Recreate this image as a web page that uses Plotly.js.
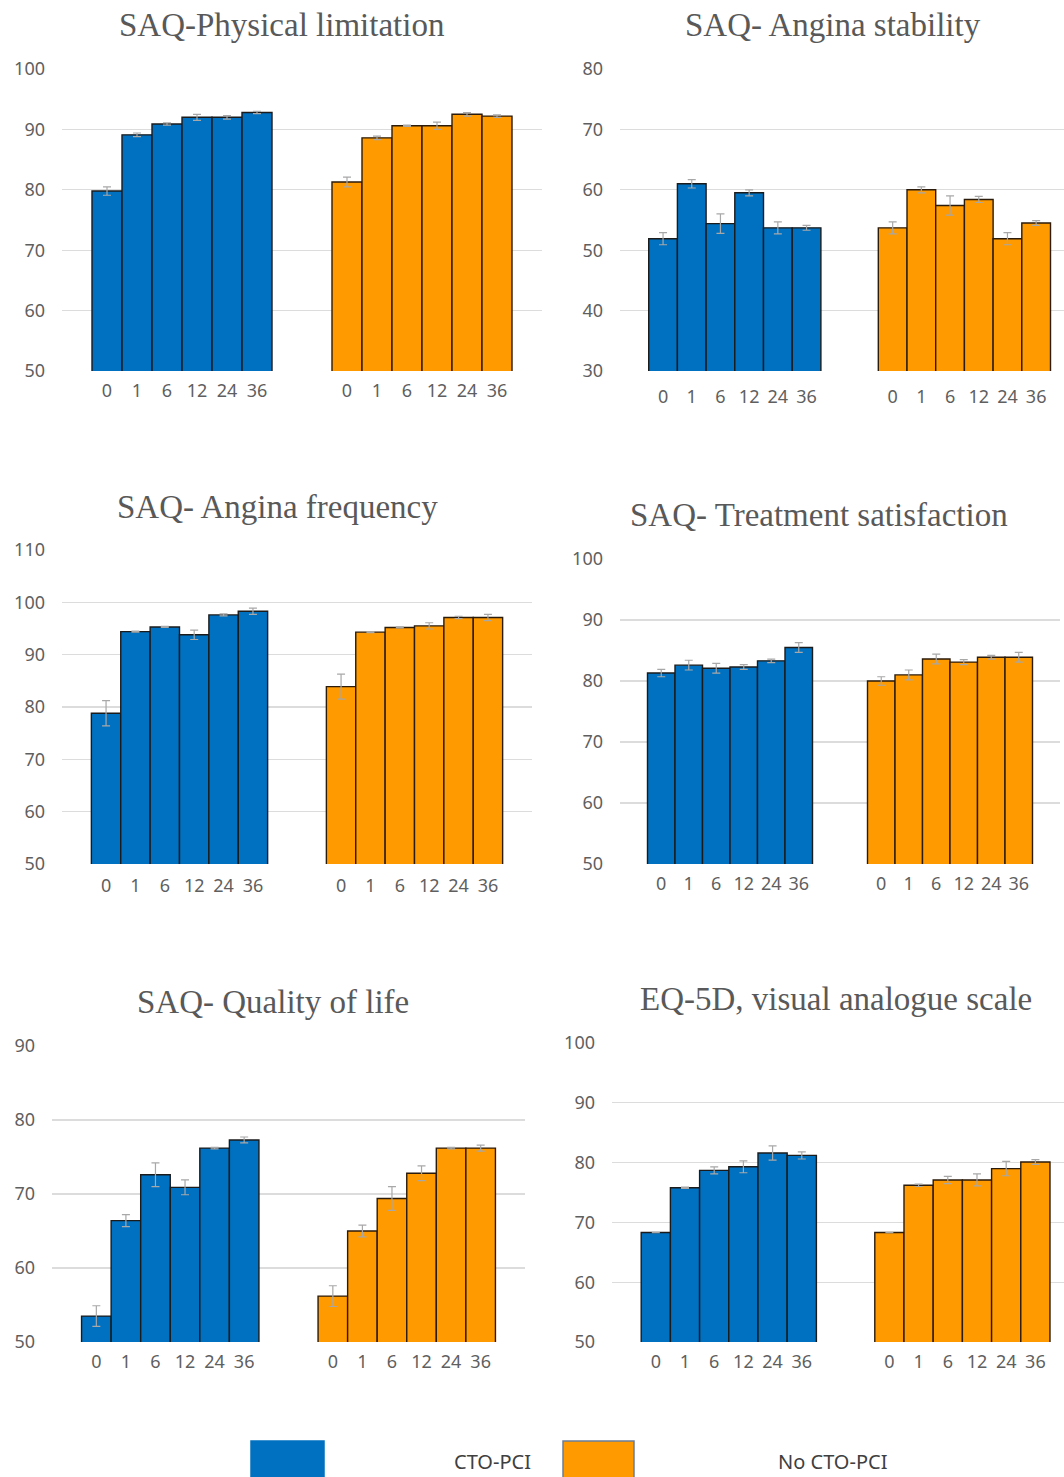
<!DOCTYPE html>
<html>
<head>
<meta charset="utf-8">
<script src="https://cdn.plot.ly/plotly-3.0.1.min.js"></script>
<style>html,body{margin:0;padding:0;background:#fff;}#chart{width:1064px;height:1477px;}</style>
</head>
<body>
<div id="chart"></div>
<script>
// ---- Data ----
const months = ['0', '1', '6', '12', '24', '36'];
const seriesNames = ['CTO-PCI', 'No CTO-PCI'];
const panelTitles = [
  'SAQ-Physical limitation',
  'SAQ- Angina stability',
  'SAQ- Angina frequency',
  'SAQ- Treatment satisfaction',
  'SAQ- Quality of life',
  'EQ-5D, visual analogue scale'
];

const physCto = [79.8, 89.1, 90.9, 92.0, 92.0, 92.8];
const physCtoErr = [0.7, 0.3, 0.2, 0.5, 0.3, 0.2];
const physNo = [81.3, 88.6, 90.6, 90.6, 92.5, 92.2];
const physNoErr = [0.8, 0.3, 0.1, 0.6, 0.3, 0.2];

const stabCto = [51.9, 61.0, 54.4, 59.5, 53.7, 53.7];
const stabCtoErr = [1.0, 0.7, 1.6, 0.5, 1.0, 0.4];
const stabNo = [53.7, 60.0, 57.4, 58.4, 51.9, 54.5];
const stabNoErr = [1.0, 0.5, 1.6, 0.5, 1.0, 0.4];

const freqCto = [78.8, 94.4, 95.3, 93.8, 97.6, 98.3];
const freqCtoErr = [2.4, 0.1, 0.1, 0.9, 0.2, 0.6];
const freqNo = [83.9, 94.3, 95.2, 95.5, 97.1, 97.1];
const freqNoErr = [2.4, 0.1, 0.1, 0.6, 0.2, 0.6];

const satCto = [81.3, 82.6, 82.1, 82.3, 83.3, 85.5];
const satCtoErr = [0.6, 0.8, 0.8, 0.4, 0.3, 0.8];
const satNo = [80.0, 81.0, 83.6, 83.1, 83.9, 83.9];
const satNoErr = [0.7, 0.8, 0.8, 0.4, 0.3, 0.8];

const qolCto = [53.5, 66.4, 72.6, 70.9, 76.2, 77.3];
const qolCtoErr = [1.4, 0.8, 1.6, 1.0, 0.1, 0.4];
const qolNo = [56.2, 65.0, 69.4, 72.8, 76.2, 76.2];
const qolNoErr = [1.4, 0.8, 1.6, 1.0, 0.1, 0.4];

const vasCto = [68.3, 75.8, 78.7, 79.3, 81.6, 81.2];
const vasCtoErr = [0.0, 0.1, 0.6, 1.0, 1.2, 0.6];
const vasNo = [68.3, 76.2, 77.1, 77.1, 79.0, 80.1];
const vasNoErr = [0.0, 0.2, 0.6, 1.0, 1.2, 0.4];

const panelData = [
  [physCto, physCtoErr, physNo, physNoErr],
  [stabCto, stabCtoErr, stabNo, stabNoErr],
  [freqCto, freqCtoErr, freqNo, freqNoErr],
  [satCto, satCtoErr, satNo, satNoErr],
  [qolCto, qolCtoErr, qolNo, qolNoErr],
  [vasCto, vasCtoErr, vasNo, vasNoErr]
];

// ---- Layout geometry (pixels) ----
const W = 1064, H = 1477;
const geom = [
  {x: [62, 542], y: [69, 371], yr: [50, 100], xr: [-0.5, 15.5], t: [281, 25], xs: 8},
  {x: [620, 1064], y: [69, 371], yr: [30, 80], xr: [-0.5, 14.97], t: [833, 25], xs: 14},
  {x: [62, 532], y: [550, 864], yr: [50, 110], xr: [-0.5, 15.5], t: [277, 507], xs: 10},
  {x: [620, 1060], y: [559, 864], yr: [50, 100], xr: [-0.5, 15.5], t: [819, 515], xs: 8},
  {x: [52, 525], y: [1046, 1342], yr: [50, 90], xr: [-0.5, 15.5], t: [273, 1002], xs: 8},
  {x: [612, 1064], y: [1043, 1342], yr: [50, 100], xr: [-0.5, 14.98], t: [836, 999], xs: 8}
];

const blue = '#0070C0';
const orange = '#FF9A00';
const gridColor = '#DCDCDC';
const tickColor = '#5f5f5f';

const posA = months.map((m, i) => i + 1);
const posB = months.map((m, i) => i + 9);

const traces = [];
const layout = {
  width: W, height: H,
  margin: {l: 0, r: 0, t: 0, b: 0},
  paper_bgcolor: '#fff', plot_bgcolor: '#fff',
  showlegend: false,
  bargap: 0,
  annotations: [],
  shapes: []
};

geom.forEach((g, k) => {
  const n = k + 1;
  const xa = n === 1 ? 'x' : 'x' + n;
  const ya = n === 1 ? 'y' : 'y' + n;
  const d = panelData[k];
  const common = {
    type: 'bar', xaxis: xa, yaxis: ya, width: 1,
    hoverinfo: 'y'
  };
  traces.push(Object.assign({}, common, {
    x: posA, y: d[0], name: seriesNames[0],
    marker: {color: blue, line: {color: '#1b1b1b', width: 1.4}},
    error_y: {type: 'data', array: d[1], visible: true, color: '#a8a8a8', thickness: 1.2, width: 4}
  }));
  traces.push(Object.assign({}, common, {
    x: posB, y: d[2], name: seriesNames[1],
    marker: {color: orange, line: {color: '#2b1b0b', width: 1.4}},
    error_y: {type: 'data', array: d[3], visible: true, color: '#a8a8a8', thickness: 1.2, width: 4}
  }));
  const xkey = n === 1 ? 'xaxis' : 'xaxis' + n;
  const ykey = n === 1 ? 'yaxis' : 'yaxis' + n;
  layout[xkey] = {
    domain: [g.x[0] / W, g.x[1] / W],
    range: g.xr,
    anchor: ya,
    tickmode: 'array',
    tickvals: posA.concat(posB),
    ticktext: months.concat(months),
    showgrid: false, zeroline: false, showline: false,
    ticks: '', ticklabelstandoff: g.xs - 1,
    tickfont: {family: 'Noto Sans, Open Sans, sans-serif', size: 18, color: tickColor},
    fixedrange: true
  };
  layout[ykey] = {
    domain: [1 - g.y[1] / H, 1 - g.y[0] / H],
    range: g.yr,
    anchor: xa,
    dtick: 10,
    showgrid: true, gridcolor: gridColor, gridwidth: 1.2,
    zeroline: false, showline: false,
    ticks: '', ticklabelstandoff: 16,
    tickfont: {family: 'Noto Sans, Open Sans, sans-serif', size: 18, color: tickColor},
    fixedrange: true
  };
  layout.annotations.push({
    xref: 'paper', yref: 'paper',
    x: g.t[0] / W, y: 1 - g.t[1] / H,
    xanchor: 'center', yanchor: 'middle',
    text: panelTitles[k], showarrow: false,
    font: {family: 'Liberation Serif, Times New Roman, serif', size: 33, color: '#595959'}
  });
});

// Legend (bottom)
const legendItems = [
  {name: seriesNames[0], color: blue, line: blue, box: [251, 324], tx: 492},
  {name: seriesNames[1], color: orange, line: '#6a7d98', box: [563, 634], tx: 832}
];
legendItems.forEach(it => {
  layout.shapes.push({
    type: 'rect', xref: 'paper', yref: 'paper',
    x0: it.box[0] / W, x1: it.box[1] / W,
    y0: 1 - 1480 / H, y1: 1 - 1441 / H,
    fillcolor: it.color, line: {color: it.line, width: 1.5}
  });
  layout.annotations.push({
    xref: 'paper', yref: 'paper',
    x: it.tx / W, y: 1 - 1461 / H,
    xanchor: 'center', yanchor: 'middle',
    text: it.name, showarrow: false,
    font: {family: 'Noto Sans, Open Sans, sans-serif', size: 20, color: '#404040'}
  });
});

Plotly.newPlot('chart', traces, layout, {staticPlot: true, displayModeBar: false});
</script>
</body>
</html>
